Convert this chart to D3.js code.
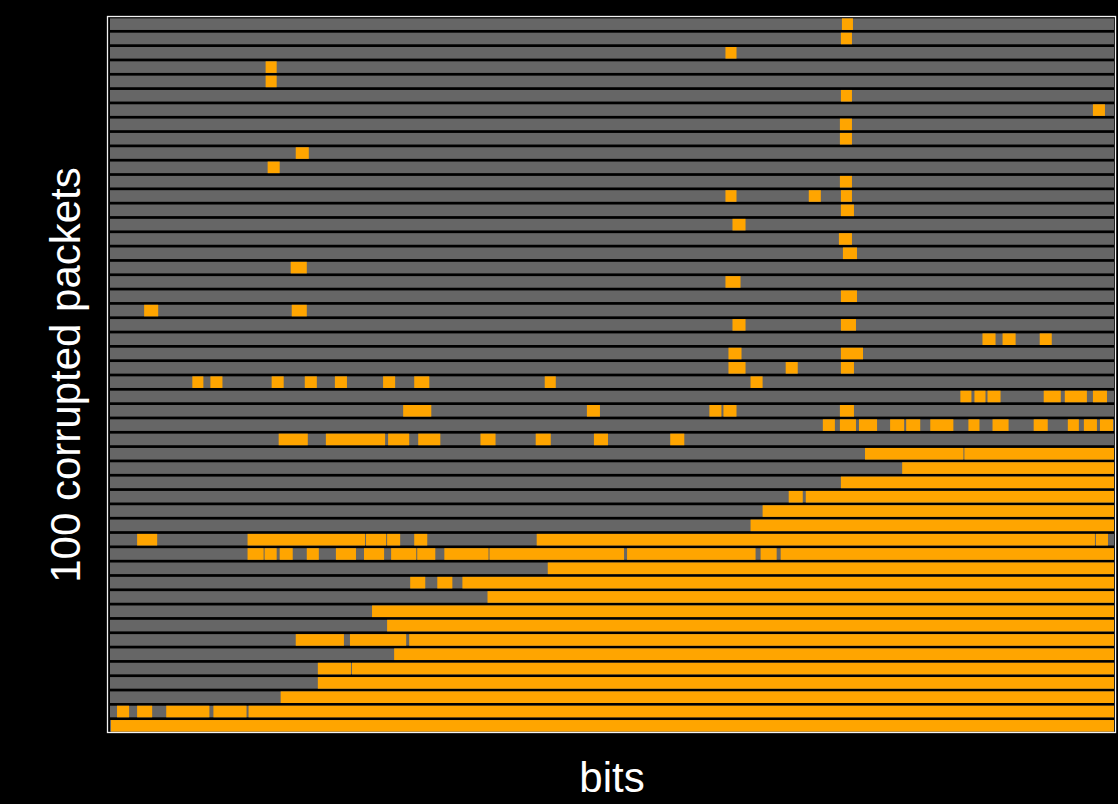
<!DOCTYPE html>
<html>
<head>
<meta charset="utf-8">
<script src="https://cdn.jsdelivr.net/npm/d3@7"></script>
<style>
  html, body { margin: 0; padding: 0; background: #000; }
  svg { display: block; }
</style>
</head>
<body>
<script>
// Packet length in bits and axis titles
const packetBits = 1000;
const xTitle = "bits";
const yTitle = "100 corrupted packets";

// Corrupted bit runs [firstBit, lastBit] for each packet, listed top to bottom
const errorRuns = [
  [[729, 740]],
  [[728, 739]],
  [[613, 624]],
  [[155, 166]],
  [[155, 166]],
  [[728, 739]],
  [[979, 991]],
  [[727, 739]],
  [[727, 739]],
  [[185, 198]],
  [[157, 169]],
  [[727, 739]],
  [[613, 624], [696, 708], [728, 739]],
  [[728, 741]],
  [[620, 633]],
  [[726, 739]],
  [[730, 744]],
  [[180, 196]],
  [[613, 628]],
  [[728, 744]],
  [[34, 48], [181, 196]],
  [[620, 633], [728, 743]],
  [[869, 882], [889, 902], [926, 938]],
  [[616, 629], [728, 750]],
  [[616, 633], [673, 685], [728, 741]],
  [[82, 93], [100, 112], [161, 173], [194, 206], [224, 236], [272, 284], [303, 318], [433, 444], [638, 650]],
  [[847, 858], [861, 872], [874, 887], [930, 947], [951, 973], [979, 993]],
  [[292, 320], [475, 488], [597, 609], [611, 624], [727, 741]],
  [[710, 722], [727, 743], [746, 764], [777, 791], [793, 807], [817, 840], [855, 866], [879, 895], [920, 934], [954, 965], [970, 983], [986, 999]],
  [[168, 197], [215, 274], [277, 298], [307, 329], [369, 384], [424, 439], [482, 496], [558, 572]],
  [[752, 850], [851, 1000]],
  [[789, 1000]],
  [[728, 1000]],
  [[676, 690], [693, 1000]],
  [[650, 1000]],
  [[638, 1000]],
  [[27, 47], [137, 254], [255, 275], [276, 289], [303, 316], [425, 981], [982, 994]],
  [[137, 153], [154, 166], [169, 182], [196, 208], [225, 245], [253, 273], [280, 305], [306, 324], [333, 377], [378, 512], [515, 643], [648, 664], [668, 1000]],
  [[436, 1000]],
  [[299, 314], [326, 341], [351, 1000]],
  [[376, 1000]],
  [[261, 1000]],
  [[276, 1000]],
  [[185, 233], [239, 295], [298, 1000]],
  [[283, 1000]],
  [[207, 240], [241, 1000]],
  [[207, 1000]],
  [[170, 1000]],
  [[7, 19], [27, 42], [56, 99], [103, 136], [138, 1000]],
  [[1, 1000]]
];

const W = 1118, H = 804;
const frame = { left: 108, top: 17, right: 1116, bottom: 733 };

const svg = d3.select("body").append("svg")
  .attr("width", W).attr("height", H);

svg.append("rect")
  .attr("width", W).attr("height", H)
  .attr("fill", "#000");

const packetIndex = d3.range(errorRuns.length);

const x = d3.scaleLinear()
  .domain([0, packetBits])
  .range([frame.left + 2, frame.right - 2]);

const y = d3.scaleBand()
  .domain(packetIndex)
  .range([frame.top, frame.bottom])
  .paddingInner(0.19)
  .paddingOuter(0.095);

// one grey strip per packet
svg.append("g").selectAll("rect")
  .data(packetIndex)
  .join("rect")
  .attr("x", x(0))
  .attr("width", x(packetBits) - x(0))
  .attr("y", d => y(d))
  .attr("height", y.bandwidth())
  .attr("fill", "#666666");

// corrupted runs in orange
const runs = errorRuns.flatMap((list, i) => list.map(r => ({ row: i, from: r[0], to: r[1] })));
svg.append("g").selectAll("rect")
  .data(runs)
  .join("rect")
  .attr("x", d => x(d.from))
  .attr("width", d => x(d.to) - x(d.from))
  .attr("y", d => y(d.row))
  .attr("height", y.bandwidth())
  .attr("fill", "#FFA500");

// plot frame
svg.append("rect")
  .attr("x", frame.left - 0.5)
  .attr("y", frame.top - 0.5)
  .attr("width", frame.right - frame.left)
  .attr("height", frame.bottom - frame.top)
  .attr("fill", "none")
  .attr("stroke", "#f2f2f2")
  .attr("stroke-width", 1.3);

// axis titles
svg.append("text")
  .attr("x", (frame.left + frame.right) / 2)
  .attr("y", 792)
  .attr("text-anchor", "middle")
  .attr("fill", "#fff")
  .attr("font-family", "'Liberation Sans', Arial, Helvetica, sans-serif")
  .attr("font-size", 42)
  .text(xTitle);

svg.append("text")
  .attr("transform", `translate(80, ${(frame.top + frame.bottom) / 2}) rotate(-90)`)
  .attr("text-anchor", "middle")
  .attr("fill", "#fff")
  .attr("font-family", "'Liberation Sans', Arial, Helvetica, sans-serif")
  .attr("font-size", 42)
  .text(yTitle);
</script>
</body>
</html>
